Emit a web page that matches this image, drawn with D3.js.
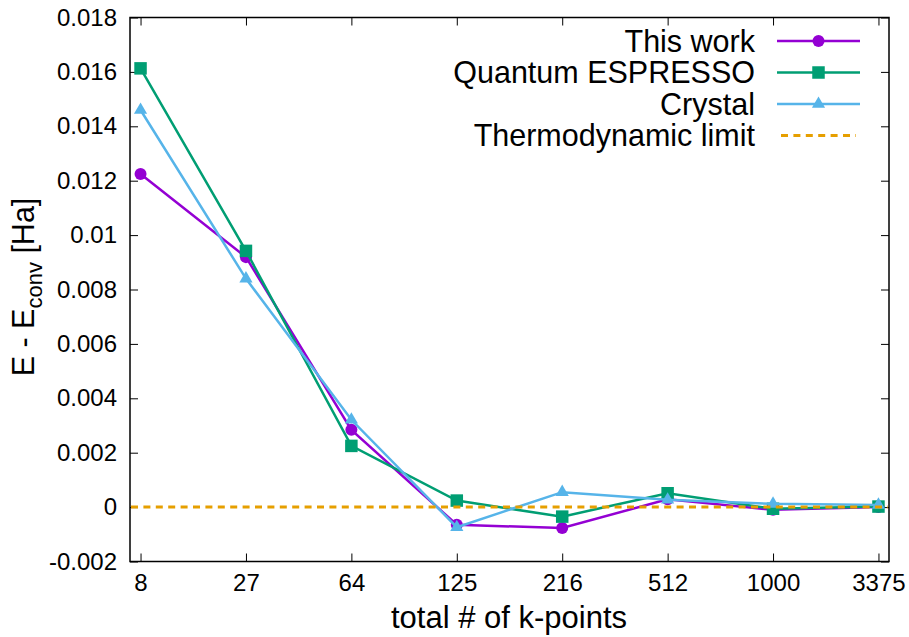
<!DOCTYPE html>
<html>
<head>
<meta charset="utf-8">
<script src="https://cdn.jsdelivr.net/npm/d3@7"></script>
<style>
  html, body { margin: 0; padding: 0; background: #fff; }
  svg { display: block; font-family: "Liberation Sans", Arial, Helvetica, sans-serif; }
</style>
</head>
<body>
<svg id="chart" width="909" height="637"></svg>
<script>
// k-point meshes (total number of k-points)
const categories = ["8", "27", "64", "125", "216", "512", "1000", "3375"];

// E - E_conv in Hartree for each code
const thisWork = [0.01225, 0.00919, 0.00284, -0.00065, -0.00077, 0.00029, -0.00010, 0.00000];
const quantumEspresso = [0.01613, 0.00942, 0.00225, 0.00024, -0.00035, 0.00051, -0.00006, 0.00002];
const crystal = [0.01460, 0.00840, 0.00321, -0.00074, 0.00055, 0.00027, 0.00012, 0.00008];
const thermoLimit = 0;

const yTicks = [-0.002, 0, 0.002, 0.004, 0.006, 0.008, 0.01, 0.012, 0.014, 0.016, 0.018];
const yTickLabels = ["-0.002", "0", "0.002", "0.004", "0.006", "0.008", "0.01", "0.012", "0.014", "0.016", "0.018"];

const seriesNames = ["This work", "Quantum ESPRESSO", "Crystal", "Thermodynamic limit"];

const W = 909, H = 637;
const plot = { left: 130, right: 889, top: 17.5, bottom: 561.5 };

const svg = d3.select("#chart");

const x = d3.scaleLinear().domain([-0.1, categories.length - 1 + 0.1]).range([plot.left, plot.right]);
const y = d3.scaleLinear().domain([-0.002, 0.018]).range([plot.bottom, plot.top]);

const idx = d3.range(categories.length);

// axes with inward ticks, mirrored on top and right
const tickLen = 8;
const bottomAxis = d3.axisBottom(x).tickValues(idx).tickFormat(i => categories[i])
  .tickSizeInner(-tickLen).tickSizeOuter(0).tickPadding(12);
const topAxis = d3.axisTop(x).tickValues(idx).tickFormat("")
  .tickSizeInner(-tickLen).tickSizeOuter(0);
const leftAxis = d3.axisLeft(y).tickValues(yTicks).tickFormat((d, i) => yTickLabels[i])
  .tickSizeInner(-tickLen).tickSizeOuter(0).tickPadding(13);
const rightAxis = d3.axisRight(y).tickValues(yTicks).tickFormat("")
  .tickSizeInner(-tickLen).tickSizeOuter(0);

function styleAxis(g) {
  g.select(".domain").remove();
  g.selectAll(".tick line").attr("stroke", "#000").attr("stroke-width", 1);
  g.selectAll(".tick text").attr("fill", "#000").attr("font-size", 24)
    .attr("font-family", "Liberation Sans, Arial, sans-serif");
}

svg.append("g").attr("transform", `translate(0,${plot.bottom})`).call(bottomAxis).call(styleAxis);
svg.append("g").attr("transform", `translate(0,${plot.top})`).call(topAxis).call(styleAxis);
svg.append("g").attr("transform", `translate(${plot.left},0)`).call(leftAxis).call(styleAxis);
svg.append("g").attr("transform", `translate(${plot.right},0)`).call(rightAxis).call(styleAxis);

// frame
svg.append("rect")
  .attr("x", plot.left).attr("y", plot.top)
  .attr("width", plot.right - plot.left).attr("height", plot.bottom - plot.top)
  .attr("fill", "none").attr("stroke", "#000").attr("stroke-width", 1.5);

const line = d3.line().x((d, i) => x(i)).y(d => y(d));

const series = [
  { name: seriesNames[0], values: thisWork, color: "#9400d3", marker: "circle" },
  { name: seriesNames[1], values: quantumEspresso, color: "#009e73", marker: "square" },
  { name: seriesNames[2], values: crystal, color: "#56b4e9", marker: "triangle" }
];

const symbolFor = {
  circle: d3.symbol().type(d3.symbolCircle).size(Math.PI * 6 * 6),
  square: d3.symbol().type(d3.symbolSquare).size(12.5 * 12.5),
  triangle: d3.symbol().type(d3.symbolTriangle).size(75)
};

const plotArea = svg.append("g");

series.forEach(s => {
  const g = plotArea.append("g");
  g.append("path").datum(s.values)
    .attr("d", line).attr("fill", "none")
    .attr("stroke", s.color).attr("stroke-width", 2.5).attr("stroke-linejoin", "miter");
  g.selectAll("path.mk").data(s.values).join("path")
    .attr("class", "mk")
    .attr("transform", (d, i) => `translate(${x(i)},${y(d)})`)
    .attr("d", symbolFor[s.marker]())
    .attr("fill", s.color);
});

// thermodynamic limit
plotArea.append("line")
  .attr("x1", plot.left + 1).attr("x2", plot.right - 1)
  .attr("y1", y(thermoLimit)).attr("y2", y(thermoLimit))
  .attr("stroke", "#e69f00").attr("stroke-width", 3).attr("stroke-dasharray", "7,5.4");

// legend
const legend = svg.append("g");
const legendRows = [41, 72.5, 104, 135.5];
const legendTextX = 755, legendL1 = 777, legendL2 = 860;
const legendItems = series.concat([{ name: seriesNames[3], color: "#e69f00", marker: null, dashed: true }]);

legendItems.forEach((s, i) => {
  const yy = legendRows[i];
  legend.append("text")
    .attr("x", legendTextX).attr("y", yy).attr("dy", "0.36em")
    .attr("text-anchor", "end").attr("font-size", 30.5).attr("fill", "#000")
    .text(s.name);
  if (s.dashed) {
    legend.append("line")
      .attr("x1", legendL1 + 4).attr("x2", legendL2 - 4).attr("y1", yy).attr("y2", yy)
      .attr("stroke", s.color).attr("stroke-width", 3).attr("stroke-dasharray", "7,5.4");
  } else {
    legend.append("line")
      .attr("x1", legendL1).attr("x2", legendL2).attr("y1", yy).attr("y2", yy)
      .attr("stroke", s.color).attr("stroke-width", 2.5);
    legend.append("path")
      .attr("transform", `translate(${(legendL1 + legendL2) / 2},${yy})`)
      .attr("d", symbolFor[s.marker]())
      .attr("fill", s.color);
  }
});

// axis titles
svg.append("text")
  .attr("x", (plot.left + plot.right) / 2 - 0.5).attr("y", 628)
  .attr("text-anchor", "middle").attr("font-size", 31).attr("fill", "#000")
  .text("total # of k-points");

const yTitle = svg.append("text")
  .attr("transform", "translate(34,287) rotate(-90)")
  .attr("text-anchor", "middle").attr("font-size", 30.5).attr("fill", "#000");
yTitle.append("tspan").text("E - E");
yTitle.append("tspan").attr("font-size", 22).attr("dy", 8).text("conv");
yTitle.append("tspan").attr("dy", -8).text(" [Ha]");
</script>
</body>
</html>
